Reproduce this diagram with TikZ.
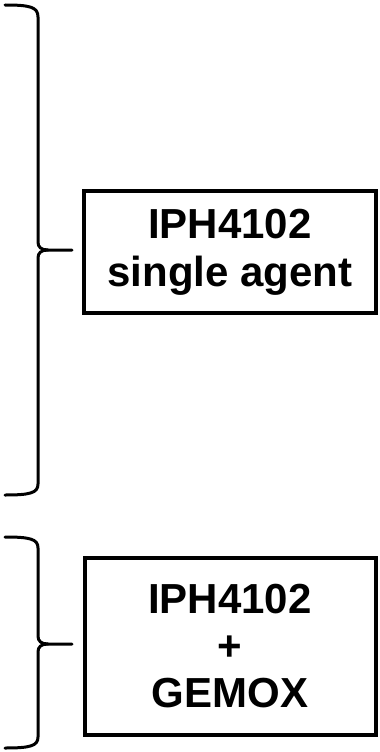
\documentclass[tikz,border=0pt]{standalone}
\usepackage{fontspec}
\setmainfont{Liberation Sans}
\begin{document}
\begin{tikzpicture}[x=1pt,y=-1pt,
  armbox/.style={draw=black,line width=4pt,fill=white,align=center,
    font=\fontsize{42}{47}\selectfont\bfseries,inner sep=0pt},
  bracestroke/.style={draw=black,line width=3pt,line cap=round}]
\useasboundingbox[fill=white] (0,0) rectangle (380,752);
% boxes
\node[armbox,minimum width=292pt,minimum height=122pt] (single) at (230,252) {IPH4102\\[1pt]single agent};
\node[armbox,minimum width=291pt,minimum height=177pt] (combo) at (230,646) {IPH4102\\[0pt]+\\[0pt]GEMOX};
% brace 1
\coordinate (b1top) at (5,5);
\coordinate (b1bot) at (5,495);
\coordinate (b1tip) at (72,250);
\path[bracestroke] (b1top) .. controls (30,5) and (38,7) .. (38,17) -- (38,242)
  .. controls (38,247) and (41,250) .. (48,250) -- (b1tip);
\path[bracestroke] (48,250) .. controls (41,250) and (38,253) .. (38,258) -- (38,484)
  .. controls (38,493) and (30,495) .. (b1bot);
% brace 2
\coordinate (b2top) at (5,537);
\coordinate (b2bot) at (5,748);
\coordinate (b2tip) at (72,644);
\path[bracestroke] (b2top) .. controls (30,537) and (38,539) .. (38,548) -- (38,636)
  .. controls (38,641) and (41,644) .. (48,644) -- (b2tip);
\path[bracestroke] (48,644) .. controls (41,644) and (38,647) .. (38,652) -- (38,737)
  .. controls (38,746) and (30,748) .. (b2bot);
\end{tikzpicture}
\end{document}
